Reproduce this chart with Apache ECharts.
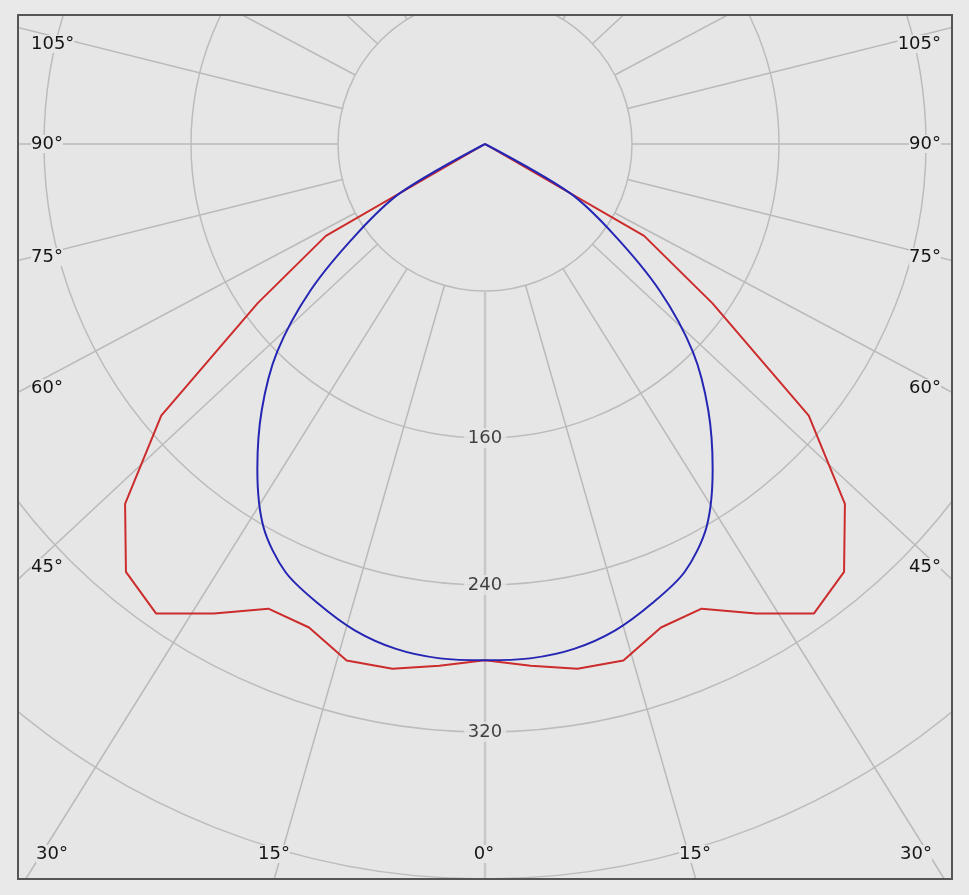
<!DOCTYPE html>
<html>
<head>
<meta charset="utf-8">
<script src="https://cdn.jsdelivr.net/npm/echarts@6/dist/echarts.min.js"></script>
<style>
html,body{margin:0;padding:0;background:#e9e9e9;width:969px;height:895px;overflow:hidden;}
#frame{position:absolute;left:17px;top:14px;width:936px;height:866px;border:2px solid #555;box-sizing:border-box;overflow:hidden;background:#e6e6e6;}
#chart{position:absolute;left:-19px;top:-16px;width:969px;height:895px;}
</style>
</head>
<body>
<div id="frame"><div id="chart"></div></div>
<script>
// ---- data ----
const gammaDeg = [0,5,10,15,20,25,30,35,40,45,50,55,60,65,70,75,80,85,90];
const redC0C180 = [281,285,290,291,280,279,295,312,304,277,230,151,100,0,0,0,0,0,0];
const blueC90C270 = [281,281,279,274,266,257,241,216,189,160,124,85,53,0,0,0,0,0,0];
const radiusTicks = [160,240,320];
const gridAngles = [0,16,32,47,62,76,90,104,118,133,148,164,180];
const sideLabels = ['105°','90°','75°','60°','45°'];
const bottomLabels = ['30°','15°','0°','15°','30°'];

// ---- layout ----
const LAYOUT = {
  center:[485,144], unitPx:147/80, rMax:480,
  sideY:[44,144,257,388,567], leftX:31, rightX:941,
  bottomX:[52,274,484,695,916], bottomY:854
};
const FONT = {fontFamily:'DejaVu Sans', fontSize:18, fill:'#151515'};

function curve(vals){
  const d = [];
  for(let i=gammaDeg.length-1;i>=0;i--) d.push([vals[i], gammaDeg[i]]);
  for(let i=0;i<gammaDeg.length;i++) d.push([vals[i], 360-gammaDeg[i]]);
  return d;
}

const series = [];
const allAngles = [];
gridAngles.forEach(a=>{ allAngles.push(a); if(a>0 && a<180) allAngles.push(360-a); });
allAngles.forEach(a=>{
  const main = (a===0);
  series.push({
    type:'line', coordinateSystem:'polar', silent:true, showSymbol:false, symbol:'none',
    data:[[80,a],[LAYOUT.rMax,a]],
    lineStyle:{color: main ? '#c8c8c8' : '#bababa', width: main ? 2.5 : 1.5},
    z:1
  });
});
series.push({
  type:'line', coordinateSystem:'polar', showSymbol:false, symbol:'none', smooth:false,
  data: curve(redC0C180), lineStyle:{color:'#cc2c2c', width:2}, z:5
});
series.push({
  type:'line', coordinateSystem:'polar', showSymbol:false, symbol:'none', smooth:0.3,
  data: curve(blueC90C270), lineStyle:{color:'#2626b4', width:2}, z:6
});
series.push({
  type:'scatter', coordinateSystem:'polar', symbolSize:1, itemStyle:{color:'rgba(0,0,0,0)'},
  data: radiusTicks.map(v=>[v,0]),
  label:{show:true, position:'inside', formatter:p=>String(p.value[0]),
    fontFamily:'DejaVu Sans', fontSize:18, color:'#151515',
    backgroundColor:'#e6e6e6', padding:[1,4]},
  z:8
});

const graphics = [];
sideLabels.forEach((t,i)=>{
  graphics.push({type:'text', z:100, style:Object.assign({text:t, x:LAYOUT.leftX, y:LAYOUT.sideY[i], align:'left', verticalAlign:'middle', backgroundColor:'#e6e6e6'}, FONT)});
  graphics.push({type:'text', z:100, style:Object.assign({text:t, x:LAYOUT.rightX, y:LAYOUT.sideY[i], align:'right', verticalAlign:'middle', backgroundColor:'#e6e6e6'}, FONT)});
});
bottomLabels.forEach((t,i)=>{
  graphics.push({type:'text', z:100, style:Object.assign({text:t, x:LAYOUT.bottomX[i], y:LAYOUT.bottomY, align:'center', verticalAlign:'middle', backgroundColor:'#e6e6e6'}, FONT)});
});

const chart = echarts.init(document.getElementById('chart'), null, {renderer:'canvas'});
chart.setOption({
  animation:false,
  backgroundColor:'transparent',
  polar:{center:LAYOUT.center, radius: LAYOUT.rMax*LAYOUT.unitPx},
  angleAxis:{type:'value', min:0, max:360, startAngle:270, clockwise:true,
    axisLine:{show:false}, axisTick:{show:false}, axisLabel:{show:false}, splitLine:{show:false}},
  radiusAxis:{type:'value', min:0, max:LAYOUT.rMax, interval:80,
    axisLine:{show:false}, axisTick:{show:false}, axisLabel:{show:false},
    splitLine:{show:true, lineStyle:{color:'#bcbcbc', width:1.5}}},
  series: series,
  graphic: graphics
});
</script>
</body>
</html>
